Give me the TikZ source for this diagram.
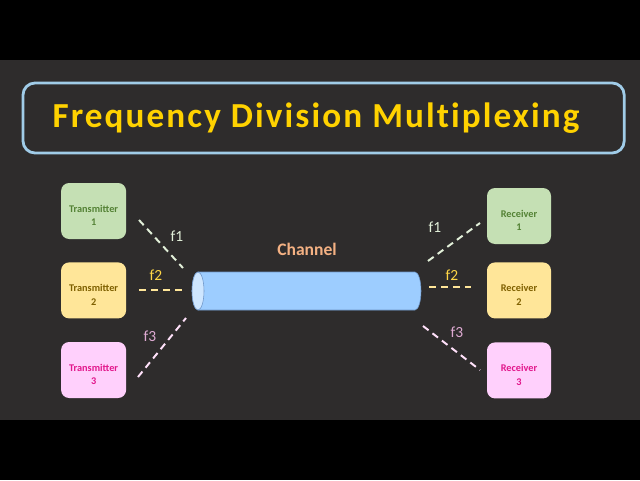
\documentclass[tikz,border=0pt]{standalone}
\usepackage{fontspec}
\setmainfont{Carlito}
\newfontfamily\titlefont[LetterSpace=6, Ligatures=NoCommon]{Carlito}
\usepackage{xcolor}
\definecolor{bgdark}{RGB}{46,44,44}
\definecolor{titleblue}{RGB}{160,204,232}
\definecolor{titlegold}{RGB}{255,210,0}
\definecolor{grnfill}{RGB}{197,224,180}
\definecolor{grntext}{RGB}{84,130,53}
\definecolor{yelfill}{RGB}{255,230,153}
\definecolor{yeltext}{RGB}{127,96,0}
\definecolor{pnkfill}{RGB}{255,208,252}
\definecolor{pnktext}{RGB}{226,24,140}
\definecolor{chanbody}{RGB}{157,205,255}
\definecolor{chanend}{RGB}{206,230,255}
\definecolor{chanedge}{RGB}{110,150,200}
\definecolor{chanlbl}{RGB}{244,177,131}
\definecolor{fone}{RGB}{226,240,217}
\definecolor{ftwo}{RGB}{255,230,153}
\definecolor{ftwolbl}{RGB}{255,214,70}
\definecolor{fthree}{RGB}{255,225,250}
\definecolor{fthreelbl}{RGB}{222,170,210}

\begin{document}
\begin{tikzpicture}[
    every node/.style={font=\bfseries},
    tbox/.style={rounded corners=0.2cm, minimum width=1.625cm, minimum height=1.4cm, inner sep=0pt, align=center, font=\fontsize{7.3}{9.8}\selectfont\bfseries},
    fline/.style={line width=1.4pt, dash pattern=on 5pt off 3.5pt},
    flbl/.style={font=\fontsize{11}{13}\selectfont}
]
\useasboundingbox (0,0) rectangle (16,12);
\fill[black] (0,0) rectangle (16,12);
\fill[bgdark] (0,1.5) rectangle (16,10.5);
\node[draw=titleblue, line width=2pt, rounded corners=0.3cm, minimum width=15.03cm, minimum height=1.75cm] (titlebox) at (8.09,9.05) {};
\node[text=titlegold, font=\titlefont\fontsize{25}{28}\selectfont\bfseries] (title) at (7.9,9.05) {Frequency Division Multiplexing};
\foreach \i/\y/\f/\t in {1/6.725/grnfill/grntext,2/4.74/yelfill/yeltext,3/2.75/pnkfill/pnktext}
  \node[tbox, fill=\f, text=\t] (tx\i) at (2.34,\y) {\rule{0pt}{0.4cm}Transmitter\\\i};
\foreach \i/\y/\f/\t in {1/6.6/grnfill/grntext,2/4.74/yelfill/yeltext,3/2.74/pnkfill/pnktext}
  \node[tbox, fill=\f, text=\t, minimum width=1.6cm] (rx\i) at (12.975,\y) {\rule{0pt}{0.4cm}Receiver\\\i};
\coordinate (chan) at (7.6625,4.725);
\filldraw[fill=chanbody, draw=chanedge, line width=0.4pt] (4.95,5.2) -- (10.375,5.2) arc (90:-90:0.15 and 0.475) -- (4.95,4.25) arc (270:90:0.15 and 0.475) -- cycle;
\filldraw[fill=chanend, draw=chanedge, line width=0.4pt] (4.95,4.725) ellipse (0.15 and 0.475);
\node[text=chanlbl, font=\fontsize{12.5}{14}\selectfont\bfseries] (chanlabel) at (7.675,5.775) {Channel};
\coordinate (a1) at (3.475,6.5);
\coordinate (b1) at (4.575,5.3);
\coordinate (a2) at (3.475,4.75);
\coordinate (b2) at (4.575,4.75);
\coordinate (a3) at (3.45,2.575);
\coordinate (b3) at (4.65,4.05);
\coordinate (c1) at (10.7,5.475);
\coordinate (d1) at (12.0,6.425);
\coordinate (c2) at (10.725,4.825);
\coordinate (d2) at (11.775,4.825);
\coordinate (c3) at (10.575,3.85);
\coordinate (d3) at (12.0,2.75);
\draw[fline, fone] (a1) -- (b1);
\draw[fline, ftwo] (a2) -- (b2);
\draw[fline, fthree] (a3) -- (b3);
\draw[fline, fone] (c1) -- (d1);
\draw[fline, ftwo] (c2) -- (d2);
\draw[fline, fthree] (c3) -- (d3);
\node[flbl, text=fone] (lf1) at (4.425,6.1) {f1};
\node[flbl, text=ftwolbl] (lf2) at (3.9,5.125) {f2};
\node[flbl, text=fthreelbl] (lf3) at (3.75,3.6) {f3};
\node[flbl, text=fone] (rf1) at (10.875,6.325) {f1};
\node[flbl, text=ftwolbl] (rf2) at (11.3,5.125) {f2};
\node[flbl, text=fthreelbl] (rf3) at (11.425,3.7) {f3};
\end{tikzpicture}
\end{document}
